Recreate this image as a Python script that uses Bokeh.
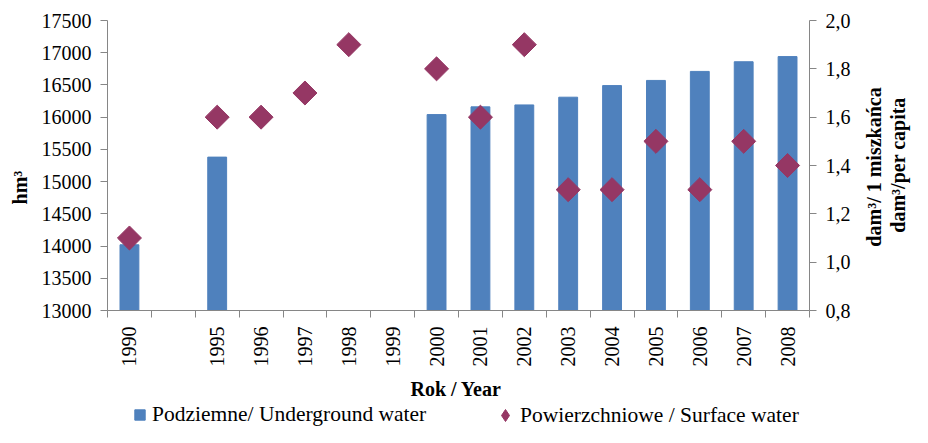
from math import pi
from bokeh.plotting import figure
from bokeh.layouts import column, row
from bokeh.models import (ColumnDataSource, Range1d, LinearAxis, FixedTicker,
                          Legend, LegendItem, Label)
from bokeh.embed import file_html
from bokeh.resources import INLINE

nan = float("nan")

# ---- data ----
years = ["1990", "", "1995", "1996", "1997", "1998", "1999", "2000", "2001",
         "2002", "2003", "2004", "2005", "2006", "2007", "2008"]
underground = [14020, nan, 15380, nan, nan, nan, nan, 16040, 16160,
               16190, 16310, 16490, 16570, 16710, 16860, 16940]
surface = [1.1, nan, 1.6, 1.6, 1.7, 1.9, nan, 1.8, 1.6,
           1.9, 1.3, 1.3, 1.5, 1.3, 1.5, 1.4]
left_ticks = [13000, 13500, 14000, 14500, 15000, 15500, 16000, 16500, 17000, 17500]
right_ticks = [0.8, 1.0, 1.2, 1.4, 1.6, 1.8, 2.0]
right_tick_labels = ["0,8", "1,0", "1,2", "1,4", "1,6", "1,8", "2,0"]
series_names = ["Podziemne/ Underground water", "Powierzchniowe / Surface water"]
left_title = "hm³"
right_titles = ["dam³/ 1 miszkańca", "dam³/per capita"]
x_title = "Rok  / Year"

FONT = "Liberation Serif"
AXIS_COLOR = "#868686"
BLUE = "#4F81BD"
PLUM = "#953764"
FS = "20px"

xs = list(range(len(years)))
src = ColumnDataSource(dict(x=xs, underground=underground, surface=surface))
y_start, y_end = left_ticks[0], left_ticks[-1]

H_MAIN = 402
TOP, BOTTOM = 20, 87
LS_W, P_W, RS_W = 33, 820, 59

p = figure(width=P_W, height=H_MAIN, output_backend="svg", toolbar_location=None,
           x_range=Range1d(-0.5, len(years) - 0.5),
           y_range=Range1d(y_start, y_end),
           min_border_left=107 - LS_W, min_border_right=P_W - 74 - 706,
           min_border_top=TOP, min_border_bottom=BOTTOM)
p.extra_y_ranges = {"right": Range1d(right_ticks[0], right_ticks[-1])}
p.outline_line_color = None
p.xgrid.visible = False
p.ygrid.visible = False

# x axis
xa = p.xaxis[0]
xa.ticker = FixedTicker(ticks=xs, minor_ticks=[i - 0.5 for i in range(len(years) + 1)])
xa.major_label_overrides = {i: y for i, y in enumerate(years)}
xa.major_label_orientation = pi / 2
xa.major_tick_line_color = None
xa.major_tick_out = 0
xa.major_tick_in = 0
xa.minor_tick_line_color = AXIS_COLOR
xa.minor_tick_out = 7
xa.minor_tick_in = 0
xa.axis_line_color = AXIS_COLOR
xa.major_label_standoff = 9
xa.major_label_text_font = FONT
xa.major_label_text_font_size = FS
xa.major_label_text_color = "black"
xa.axis_label = x_title
xa.axis_label_text_font = FONT
xa.axis_label_text_font_size = FS
xa.axis_label_text_font_style = "bold"
xa.axis_label_text_color = "black"
xa.axis_label_standoff = 8

# left axis
ya = p.yaxis[0]
ya.ticker = FixedTicker(ticks=left_ticks)
ya.minor_tick_line_color = None
ya.major_tick_out = 7
ya.major_tick_in = 0
ya.major_tick_line_color = AXIS_COLOR
ya.axis_line_color = AXIS_COLOR
ya.major_label_standoff = 9
ya.major_label_text_font = FONT
ya.major_label_text_font_size = FS
ya.major_label_text_color = "black"

# right axis
ra = LinearAxis(y_range_name="right", ticker=FixedTicker(ticks=right_ticks),
                major_label_overrides=dict(zip(right_ticks, right_tick_labels)))
ra.minor_tick_line_color = None
ra.major_tick_out = 7
ra.major_tick_in = 0
ra.major_tick_line_color = AXIS_COLOR
ra.axis_line_color = AXIS_COLOR
ra.major_label_standoff = 9
ra.major_label_text_font = FONT
ra.major_label_text_font_size = FS
ra.major_label_text_color = "black"
p.add_layout(ra, "right")

# glyphs
bars = p.vbar(x="x", top="underground", bottom=y_start, width=0.43, source=src, color=BLUE)
dots = p.scatter(x="x", y="surface", source=src, marker="square", angle=pi / 4,
                 size=17, color=PLUM, y_range_name="right")


def strip(width, height, x_range, y_range, top=0, bottom=0):
    f = figure(width=width, height=height, output_backend="svg", toolbar_location=None,
               x_range=x_range, y_range=y_range,
               x_axis_location=None, y_axis_location=None,
               min_border_left=0, min_border_right=0,
               min_border_top=top, min_border_bottom=bottom)
    f.outline_line_color = None
    f.xgrid.visible = False
    f.ygrid.visible = False
    return f


title_kw = dict(angle=pi / 2, text_align="center", text_baseline="alphabetic",
                text_font=FONT, text_font_size=FS, text_font_style="bold",
                text_color="black")

# left title strip (x in pixels from strip's left edge, y in left-axis units)
ls = strip(LS_W, H_MAIN, Range1d(0, LS_W), p.y_range, TOP, BOTTOM)
ls.add_layout(Label(x=19, y=14907, text=left_title, **title_kw))

# right title strip
rs = strip(RS_W, H_MAIN, Range1d(0, RS_W), p.y_range, TOP, BOTTOM)
rs.add_layout(Label(x=20, y=15227, text=right_titles[0], **title_kw))
rs.add_layout(Label(x=44, y=15258, text=right_titles[1], **title_kw))

# legend strip (key renderers use the same data, but lie outside this strip's ranges)
lf = strip(912, 25, Range1d(-3, -2), Range1d(-3, -2))
key_bar = lf.vbar(x="x", top="underground", bottom=y_start, width=0.43, source=src, color=BLUE)
key_dot = lf.scatter(x="x", y="surface", source=src, marker="diamond", color=PLUM)

common = dict(orientation="horizontal", padding=0, margin=0,
              border_line_color=None, background_fill_alpha=0,
              label_text_font=FONT, label_text_font_size="21.5px",
              label_text_color="black")
leg1 = Legend(items=[LegendItem(label=series_names[0], renderers=[key_bar])],
              location=(133, 0), glyph_width=13, glyph_height=13,
              label_height=13, label_standoff=6, **common)
leg2 = Legend(items=[LegendItem(label=series_names[1], renderers=[key_dot])],
              location=(490, -3), glyph_width=30, glyph_height=30,
              label_height=13, label_standoff=0, **common)
lf.add_layout(leg1)
lf.add_layout(leg2)

layout = column(row(ls, p, rs, spacing=0), lf, spacing=0)
open("out.html", "w").write(file_html(layout, INLINE))
